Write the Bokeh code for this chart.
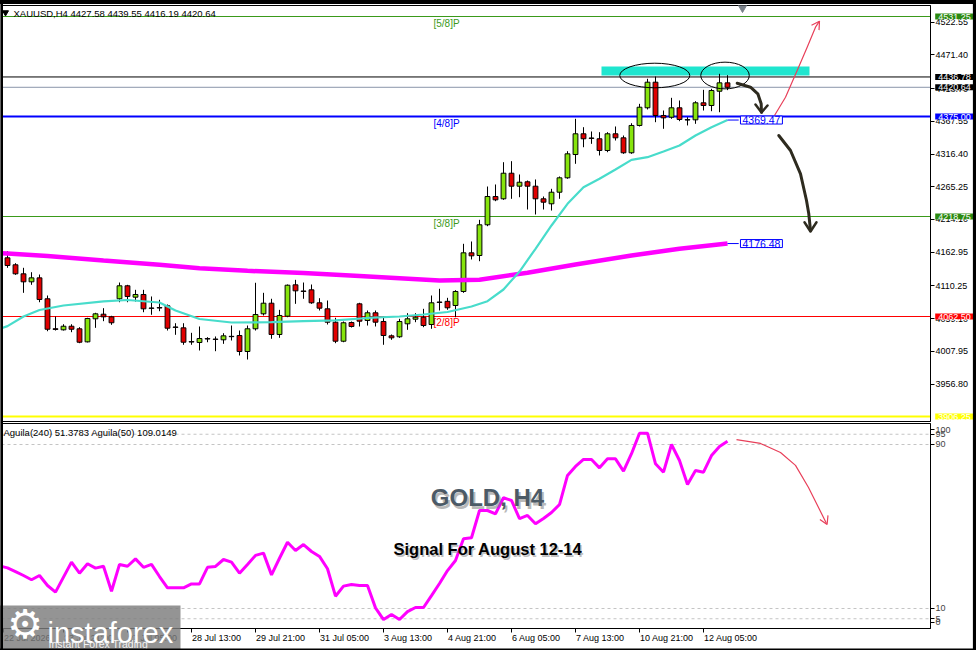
from bokeh.plotting import figure
from bokeh.models import Range1d, Span, Label, FixedTicker, PrintfTickFormatter, ColumnDataSource
from bokeh.layouts import column
from bokeh.embed import file_html
from bokeh.resources import INLINE
from bokeh.core.properties import value

# ---------------- data ----------------
opens = [4154.2, 4143.3, 4129.2, 4116.7, 4122.9, 4090.2, 4043.4, 4041.7, 4047.3, 4043.3,
         4022.9, 4058.9, 4066.1, 4062.0, 4090.2, 4110.5, 4092.7, 4096.9, 4075.8, 4076.4,
         4079.2, 4046.1, 4044.8, 4023.3, 4021.9, 4028.0, 4027.2, 4026.1, 4031.5, 4032.8,
         4007.8, 4043.3, 4066.7, 4083.3, 4034.4, 4063.0, 4112.0, 4102.3, 4104.2, 4083.9,
         4074.5, 4053.6, 4023.9, 4053.1, 4082.3, 4056.3, 4068.3, 4054.7, 4032.3, 4030.8,
         4051.1, 4058.3, 4061.4, 4050.0, 4085.1, 4086.2, 4079.7, 4101.6, 4162.0, 4157.8,
         4205.8, 4250.0, 4246.4, 4286.4, 4266.1, 4273.0, 4266.1, 4246.4, 4238.6, 4256.7,
         4279.2, 4315.6, 4348.0, 4341.4, 4340.2, 4321.9, 4348.0, 4341.7, 4318.3, 4361.0,
         4388.6, 4428.6, 4376.6, 4373.9, 4388.6, 4370.1, 4369.8, 4396.4, 4392.2, 4414.5,
         4427.58]
highs = [4164.5, 4145.8, 4138.6, 4131.7, 4128.1, 4095.3, 4062.5, 4050.4, 4050.4, 4045.8,
         4060.5, 4068.3, 4075.5, 4063.6, 4115.6, 4112.0, 4104.2, 4104.2, 4093.8, 4088.6,
         4081.3, 4052.0, 4052.0, 4037.0, 4046.9, 4030.2, 4031.3, 4036.4, 4048.4, 4040.6,
         4048.4, 4115.2, 4099.5, 4090.2, 4072.9, 4112.5, 4119.8, 4115.6, 4112.5, 4091.1,
         4087.5, 4060.5, 4054.7, 4054.7, 4083.9, 4071.9, 4071.9, 4062.5, 4034.4, 4058.9,
         4067.7, 4067.7, 4074.5, 4095.3, 4105.8, 4091.7, 4103.6, 4176.1, 4179.7, 4213.6,
         4265.6, 4268.8, 4303.6, 4305.2, 4284.4, 4275.0, 4276.6, 4250.0, 4262.0, 4281.3,
         4320.8, 4371.4, 4358.3, 4351.6, 4350.5, 4350.5, 4359.4, 4345.3, 4364.5, 4394.8,
         4433.9, 4437.5, 4384.4, 4404.2, 4400.0, 4373.9, 4398.9, 4416.7, 4418.3, 4441.7,
         4439.55]
lows = [4138.6, 4127.6, 4099.5, 4112.0, 4084.8, 4039.5, 4040.6, 4040.6, 4038.0, 4020.8,
        4022.0, 4044.8, 4055.2, 4049.5, 4084.8, 4084.8, 4085.9, 4069.2, 4065.2, 4070.8,
        4040.6, 4033.9, 4018.3, 4018.3, 4009.4, 4022.3, 4008.3, 4019.8, 4025.0, 4001.6,
        3995.3, 4040.6, 4064.1, 4027.7, 4029.2, 4061.4, 4082.3, 4090.2, 4082.3, 4071.9,
        4050.0, 4020.8, 4022.3, 4045.3, 4046.9, 4048.4, 4046.9, 4018.3, 4026.1, 4029.2,
        4041.7, 4053.6, 4045.8, 4043.3, 4071.9, 4073.0, 4061.4, 4099.5, 4151.6, 4148.9,
        4203.6, 4242.7, 4244.8, 4246.4, 4248.9, 4229.7, 4221.9, 4229.7, 4228.1, 4246.4,
        4277.7, 4301.1, 4327.0, 4332.3, 4314.1, 4319.2, 4337.5, 4316.7, 4316.7, 4359.4,
        4386.0, 4366.1, 4355.8, 4371.4, 4367.7, 4361.0, 4363.6, 4384.4, 4383.3, 4381.7,
        4416.19]
closes = [4142.2, 4129.2, 4116.7, 4122.9, 4089.1, 4042.6, 4042.3, 4047.3, 4042.6, 4022.3,
          4059.4, 4066.7, 4062.0, 4052.7, 4110.5, 4093.8, 4096.9, 4074.5, 4075.2, 4075.8,
          4044.2, 4045.5, 4022.3, 4022.6, 4028.1, 4027.3, 4026.7, 4032.3, 4031.0, 4007.8,
          4043.3, 4065.6, 4083.3, 4034.4, 4064.1, 4111.4, 4102.6, 4101.7, 4083.9, 4075.5,
          4053.6, 4023.9, 4052.7, 4046.9, 4055.2, 4068.3, 4053.6, 4032.8, 4029.2, 4054.7,
          4058.9, 4061.4, 4048.4, 4083.9, 4084.5, 4076.1, 4101.6, 4162.0, 4157.3, 4205.8,
          4250.0, 4244.8, 4286.4, 4266.1, 4272.3, 4266.1, 4246.4, 4241.1, 4256.7, 4279.2,
          4316.7, 4348.0, 4340.2, 4340.8, 4321.9, 4348.0, 4341.7, 4318.3, 4361.0, 4389.5,
          4428.6, 4376.6, 4372.9, 4388.6, 4370.3, 4369.5, 4396.4, 4392.2, 4415.6, 4427.6,
          4420.64]

# fast MA (turquoise) and slow MA (magenta), read at selected bars
ma_fast_bar = [-1, 0, 2, 4, 7, 12, 15, 19, 21, 24, 28, 33, 37, 41, 45, 49, 52, 55, 58, 60,
               62, 64, 66, 68, 70, 72, 74, 76, 78, 80, 82, 84, 86, 88, 90]
ma_fast_val = [4043.0, 4047.5, 4062.5, 4072.6, 4079.7, 4086.0, 4088.3, 4084.4, 4071.9, 4058.6,
               4053.1, 4053.6, 4055.2, 4056.3, 4060.2, 4062.5, 4065.6, 4069.5, 4078.1, 4086.4,
               4104.7, 4132.8, 4168.3, 4204.7, 4238.6, 4264.6, 4277.7, 4292.2, 4307.3, 4311.4,
               4320.3, 4329.7, 4345.3, 4358.3, 4369.47]
ma_slow_bar = [-1, 0, 5, 12, 19, 24, 30, 37, 44, 49, 54, 59, 65, 71, 78, 84, 90]
ma_slow_val = [4161.5, 4160.9, 4157.0, 4150.0, 4143.3, 4138.0, 4133.9, 4130.5, 4125.8, 4122.3,
               4118.75, 4120.0, 4130.8, 4143.8, 4157.8, 4168.3, 4176.48]

# Aguila oscillator
agu_bar = list(range(-1, 91))
agu_val = [30.8, 29.8, 28.0, 26.1, 24.0, 26.1, 21.2, 18.0, 25.3, 32.6, 27.2,
           31.8, 29.7, 30.6, 18.4, 31.5, 30.6, 34.2, 30.1, 31.5, 25.6,
           20.1, 20.1, 20.1, 22.0, 22.0, 30.1, 30.5, 33.9, 32.6, 27.2,
           31.5, 35.9, 37.0, 26.4, 34.5, 42.3, 38.3, 41.2, 37.8, 35.4,
           29.4, 16.0, 20.9, 21.7, 21.2, 21.2, 10.3, 4.6, 7.1, 4.6,
           8.5, 10.5, 10.5, 16.3, 22.2, 28.5, 33.4, 44.0, 44.5, 57.8,
           57.8, 56.2, 64.0, 62.7, 53.8, 55.4, 51.3, 53.9, 56.8, 60.7,
           74.9, 79.3, 82.7, 82.7, 78.6, 83.0, 83.0, 77.0, 85.5, 95.5,
           95.5, 80.6, 76.5, 90.0, 82.2, 70.5, 77.3, 76.5, 84.6, 89.0, 91.6]

# Murrey levels and other horizontal lines
level_prices = [4531.25, 4375.00, 4218.75, 4062.50, 3906.25]
level_names = ["[5/8]P", "[4/8]P", "[3/8]P", "[2/8]P", ""]
level_colors = ["#3a9a1a", "#0000ff", "#3a9a1a", "#ff0000", "#ffff00"]
level_widths = [1, 2, 1, 1, 2]
resistance_price = 4436.78
bid_price = 4420.64

price_ticks = [4522.55, 4471.40, 4418.70, 4367.55, 4316.40, 4265.25, 4214.10,
               4162.95, 4110.25, 4059.10, 4007.95, 3956.80]
osc_ticks = [3.2, 5, 10, 90, 95, 97.3]
osc_tick_labels = ["0", "5", "10", "90", "95", "100"]
osc_levels = [95, 90, 10, 5]

time_ticks = [-0.5, 7, 15, 23, 31, 39, 47, 55, 63, 71, 79, 87]
time_labels = ["22 Jul 2026", "23 Jul 21:00", "27 Jul 05:00", "28 Jul 13:00", "29 Jul 21:00",
               "31 Jul 05:00", "3 Aug 13:00", "4 Aug 21:00", "6 Aug 05:00", "7 Aug 13:00",
               "10 Aug 21:00", "12 Aug 05:00"]

# hand-drawn annotations (bar index, price / oscillator value)
zone_left, zone_right, zone_bottom, zone_top = 74.25, 100.25, 4439.1, 4453.1
ell_x = [80.91, 89.69]
ell_y = [4439.06, 4439.06]
ell_w = [8.75, 6.06]
ell_h = [38.4, 41.7]
arr1_x = [91.21, 92.875, 93.79, 94.21, 94.25]
arr1_y = [4427.0, 4420.8, 4410.5, 4394.8, 4381.7]
arr1_head_x = [93.5, 94.25, 95.0]
arr1_head_y = [4393.75, 4381.25, 4392.2]
arr2_x = [96.41, 97.875, 99.125, 99.875, 100.16, 100.375]
arr2_y = [4345.31, 4321.875, 4285.47, 4243.75, 4222.97, 4196.9]
arr2_head_x = [99.625, 100.375, 101.125]
arr2_head_y = [4209.84, 4195.3, 4209.84]
up_x = [95.875, 97.25, 98.71, 99.96, 101.0, 101.5]
up_y = [4376.56, 4405.16, 4446.875, 4483.28, 4514.53, 4523.9]
up_head_x = [100.5, 101.5, 101.44]
up_head_y = [4517.7, 4523.9, 4510.0]
osc_arr_x = [91.125, 94.125, 96.625, 98.5, 100.125, 102.375]
osc_arr_y = [92.4, 90.5, 86.1, 79.8, 69.0, 51.5]
osc_head_x = [102.56, 102.45, 101.55]
osc_head_y = [55.4, 51.0, 53.4]

FONT = "Liberation Sans"
W = 976

# ---------------- price panel ----------------
p = figure(width=W, height=422, x_range=Range1d(-0.75, 115.375),
           y_range=Range1d(3898.44, 4548.44), output_backend="svg", toolbar_location=None,
           x_axis_location=None, y_axis_location="right",
           min_border_left=1, min_border_right=46, min_border_top=5, min_border_bottom=1,
           background_fill_color="white", border_fill_color="white",
           outline_line_color="black", outline_line_width=1)
p.grid.visible = False
ya = p.yaxis[0]
ya.ticker = FixedTicker(ticks=price_ticks)
ya.formatter = PrintfTickFormatter(format="%.2f")
ya.major_label_text_font = FONT
ya.major_label_text_font_size = "9px"
ya.major_label_text_color = "black"
ya.major_tick_out = 4
ya.major_tick_in = 0
ya.minor_tick_out = 0
ya.minor_tick_in = 0
ya.major_label_standoff = 1
ya.axis_line_color = "black"
ya.major_tick_line_color = "black"

for pr, col, w in zip(level_prices, level_colors, level_widths):
    p.add_layout(Span(location=pr, dimension="width", line_color=col, line_width=w, level="underlay"))
p.add_layout(Span(location=resistance_price, dimension="width", line_color="black", line_width=1, level="underlay"))
p.add_layout(Span(location=bid_price, dimension="width", line_color="#8a96aa", line_width=1, level="underlay"))

# resistance zone
p.quad(left=[zone_left], right=[zone_right], bottom=[zone_bottom], top=[zone_top],
       fill_color="#1fe6cf", line_color=None)

# level names
p.text(x=[53.25] * 4, y=[pr - 11.5 for pr in level_prices[:3]] + [level_prices[3] - 9.5],
       text=level_names[:4], text_color=level_colors[:4], text_font=value(FONT),
       text_font_size="10px", text_align="left", text_baseline="middle")

# candles
bars = list(range(len(opens)))
src = ColumnDataSource(dict(
    x=bars, o=opens, h=highs, l=lows, c=closes,
    top=[max(a, b) for a, b in zip(opens, closes)],
    bot=[min(a, b) for a, b in zip(opens, closes)],
    col=["#86e40c" if c >= o else "#e00000" for o, c in zip(opens, closes)]))
p.segment(x0="x", y0="h", x1="x", y1="l", source=src, line_color="black", line_width=1)
p.vbar(x="x", width=0.6, top="top", bottom="bot", source=src, fill_color="col",
       line_color="black", line_width=1)

# moving averages
p.line(ma_slow_bar, ma_slow_val, line_color="#ff00ff", line_width=4.5)
p.line(ma_fast_bar, ma_fast_val, line_color="#48dccb", line_width=2.2)
p.segment(x0=[90, 90], y0=[ma_fast_val[-1], ma_slow_val[-1]], x1=[91.4, 91.4],
          y1=[ma_fast_val[-1], ma_slow_val[-1]], line_color="#0000ff", line_width=1)
for v in (ma_fast_val[-1], ma_slow_val[-1]):
    p.add_layout(Label(x=91.62, y=v, text="%.2f" % v, text_font=FONT, text_font_size="10.5px",
                       text_color="#0000ff", text_baseline="middle", text_align="left",
                       background_fill_color="white", border_line_color="#0000ff",
                       border_line_width=1, padding=dict(left=2, right=2, top=0, bottom=0)))

# ellipses and arrows
p.ellipse(x=ell_x, y=ell_y, width=ell_w, height=ell_h, fill_alpha=0, line_color="black", line_width=1)
p.line(arr1_x, arr1_y, line_color="#2e2b1f", line_width=3, line_cap="round", line_join="round")
p.line(arr1_head_x, arr1_head_y, line_color="#2e2b1f", line_width=2.5, line_cap="round", line_join="round")
p.line(arr2_x, arr2_y, line_color="#2e2b1f", line_width=3, line_cap="round", line_join="round")
p.line(arr2_head_x, arr2_head_y, line_color="#2e2b1f", line_width=2.5, line_cap="round", line_join="round")
p.line(up_x, up_y, line_color="#e8405a", line_width=1.2)
p.line(up_head_x, up_head_y, line_color="#e8405a", line_width=1.2)

# header
p.scatter(x=[-0.25], y=[4537.5], marker="inverted_triangle", size=6, color="black")
p.scatter(x=[91.875], y=[4546.5], marker="inverted_triangle", size=10, color="#7a818a")
p.text(x=[0.75], y=[4536.0], text=["XAUUSD,H4  4427.58 4439.55 4416.19 4420.64"],
       text_font=value(FONT), text_font_size="9.5px", text_color="black",
       text_align="left", text_baseline="middle")

# price boxes on the right scale (anchored at the frame edge, shifted into the scale strip)
box_prices = [level_prices[0], resistance_price, bid_price, level_prices[1],
              level_prices[2], level_prices[3], level_prices[4]]
box_colors = ["#2b8a10", "black", "black", "#0000ff", "#2b8a10", "#ff0000", "#ffff00"]
box_src = ColumnDataSource(dict(x=[115.3] * len(box_prices), y=box_prices,
                                t=["%.2f" % v for v in box_prices], bg=box_colors))
p.text(x="x", y="y", text="t", source=box_src, text_font=value(FONT), text_font_size="9px",
       text_color="white", text_align="left", text_baseline="middle", x_offset=5.3,
       background_fill_color="bg", padding=dict(left=3, right=3, top=0, bottom=0),
       level="overlay")

# screenshot frame (black edge)
p.line([-2, 130], [4553.9, 4553.9], line_color="black", line_width=4, level="overlay")
p.line([-0.725, -0.725], [3800, 4600], line_color="black", line_width=2.6, level="overlay")
p.line([120.9, 120.9], [3800, 4600], line_color="black", line_width=3.6, level="overlay")

# ---------------- oscillator panel ----------------
q = figure(width=W, height=228, x_range=p.x_range, y_range=Range1d(0.24, 100.24),
           output_backend="svg", toolbar_location=None, y_axis_location="right",
           min_border_left=1, min_border_right=46, min_border_top=1, min_border_bottom=22,
           background_fill_color="white", border_fill_color="white",
           outline_line_color="black", outline_line_width=1)
q.grid.visible = False
qa = q.yaxis[0]
qa.ticker = FixedTicker(ticks=osc_ticks)
qa.major_label_overrides = {t: s for t, s in zip(osc_ticks, osc_tick_labels)}
qa.major_label_text_font = FONT
qa.major_label_text_font_size = "9px"
qa.major_tick_out = 4
qa.major_tick_in = 0
qa.minor_tick_out = 0
qa.minor_tick_in = 0
qa.major_label_standoff = 1
qa.axis_line_color = "black"

xa = q.xaxis[0]
xa.ticker = FixedTicker(ticks=time_ticks)
xa.major_label_overrides = {t: "" for t in time_ticks}
xa.major_tick_out = 4
xa.major_tick_in = 0
xa.minor_tick_out = 0
xa.minor_tick_in = 0
xa.axis_line_color = "black"

for lv in osc_levels:
    q.add_layout(Span(location=lv, dimension="width", line_color="#c4c4c4", line_width=1,
                      line_dash="3 3", level="underlay"))

q.line(agu_bar, agu_val, line_color="#ff00ff", line_width=3)
q.line(osc_arr_x, osc_arr_y, line_color="#e8405a", line_width=1.2)
q.line(osc_head_x, osc_head_y, line_color="#e8405a", line_width=1.2)

q.text(x=[-0.5], y=[96.0], text=["Aguila(240) 51.3783  Aguila(50) 109.0149"],
       text_font=value(FONT), text_font_size="9.5px", text_color="black",
       text_align="left", text_baseline="middle")

# titles with shadow
q.text(x=[60.0], y=[63.9], text=["GOLD, H4"], text_font=value(FONT), text_font_style="bold",
       text_font_size="24px", text_color="#7d7d7d", text_alpha=0.55, text_align="center",
       text_baseline="middle", x_offset=2, y_offset=2.5)
q.text(x=[60.0], y=[63.9], text=["GOLD, H4"], text_font=value(FONT), text_font_style="bold",
       text_font_size="24px", text_color="#4c5a66", text_align="center", text_baseline="middle")
q.text(x=[60.05], y=[39.0], text=["Signal For August 12-14"], text_font=value(FONT),
       text_font_style="bold", text_font_size="16.5px", text_color="#8a8a8a", text_alpha=0.55,
       text_align="center", text_baseline="middle", x_offset=1.5, y_offset=2)
q.text(x=[60.05], y=[39.0], text=["Signal For August 12-14"], text_font=value(FONT),
       text_font_style="bold", text_font_size="16.5px", text_color="black",
       text_align="center", text_baseline="middle")

# time scale labels, left-aligned at their ticks (anchored on the frame edge, shifted below)
q.text(x=time_ticks, y=[0.5] * len(time_ticks), text=time_labels, text_font=value(FONT),
       text_font_size="9px", text_color="black", text_align="left", text_baseline="middle",
       x_offset=0.5, y_offset=10, level="overlay")

# logo
q.quad(left=[-0.95], right=[21.625], bottom=[-14.0], top=[11.46], fill_color="#7d7d7d",
       fill_alpha=0.82, line_color=None, level="overlay")
q.text(x=[2.2], y=[2.2], text=["\u2699"], text_font=value("DejaVu Sans"), text_font_size="40px",
       text_color="white", text_align="center", text_baseline="middle", level="overlay")
q.text(x=[5.0], y=[0.5], text=["instaforex"], text_font=value(FONT), text_font_size="29px",
       text_color="white", text_align="left", text_baseline="alphabetic", y_offset=5.5,
       level="overlay")
q.text(x=[5.125], y=[0.5], text=["Instant Forex Trading"], text_font=value(FONT),
       text_font_size="10.5px", text_color="#f2f2f2", text_align="left",
       text_baseline="alphabetic", y_offset=16.5, level="overlay")

# screenshot frame (black edge)
q.line([-2, 130], [-10.1, -10.1], line_color="black", line_width=2.5, level="overlay")
q.line([-0.725, -0.725], [-20, 120], line_color="black", line_width=2.6, level="overlay")
q.line([120.9, 120.9], [-20, 120], line_color="black", line_width=3.6, level="overlay")

layout = column(p, q)
open("out.html", "w").write(file_html(layout, INLINE))
